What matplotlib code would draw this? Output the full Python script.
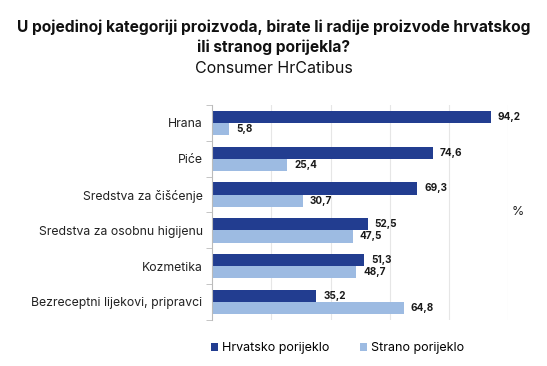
import numpy as np
import matplotlib.pyplot as plt

categories = ["Hrana", "Piće", "Sredstva za čišćenje", "Sredstva za osobnu higijenu",
              "Kozmetika", "Bezreceptni lijekovi, pripravci"]
hrvatsko = [94.2, 74.6, 69.3, 52.5, 51.3, 35.2]
strano = [5.8, 25.4, 30.7, 47.5, 48.7, 64.8]
series_names = ["Hrvatsko porijeklo", "Strano porijeklo"]

dark = "#223d90"
light = "#9dbbe2"

plt.rcParams['font.family'] = ['Inter', 'DejaVu Sans']

fig = plt.figure(figsize=(5.47, 3.66), dpi=100)
ax = fig.add_axes([0.388, 0.126, 0.541, 0.587])

y = np.arange(len(categories))
h = 0.34
b1 = ax.barh(y - h / 2, hrvatsko, height=h, color=dark, label=series_names[0])
b2 = ax.barh(y + h / 2, strano, height=h, color=light, label=series_names[1])

for bars, vals in ((b1, hrvatsko), (b2, strano)):
    for bar, v in zip(bars, vals):
        ax.text(bar.get_width() + 2.3, bar.get_y() + bar.get_height() / 2,
                f"{v:.1f}".replace(".", ","), va="center", ha="left",
                fontsize=7.2, fontweight="bold", color="#1a1a1a")

ax.set_xlim(0, 100)
ax.set_ylim(len(categories) - 0.5, -0.5)
ax.set_yticks(y)
ax.set_yticklabels(categories, fontsize=8.8, color="#222222")
ax.set_yticks(np.arange(len(categories) + 1) - 0.5, minor=True)
ax.tick_params(axis="y", which="major", length=0, pad=7)
ax.tick_params(axis="y", which="minor", length=4, color="#bbbbbb")
ax.set_xticks([20, 40, 60, 80, 100])
ax.tick_params(axis="x", length=0, labelbottom=False)
ax.grid(axis="x", color="#e6e6e6", linewidth=0.8)
ax.set_axisbelow(True)
for s in ["top", "right", "bottom"]:
    ax.spines[s].set_visible(False)
ax.spines["left"].set_color("#bbbbbb")

fig.text(0.5, 0.925, "U pojedinoj kategoriji proizvoda, birate li radije proizvode hrvatskog",
         ha="center", va="center", fontsize=11.2, fontweight="bold", color="#111111")
fig.text(0.5, 0.87, "ili stranog porijekla?",
         ha="center", va="center", fontsize=11.2, fontweight="bold", color="#111111")
fig.text(0.5, 0.812, "Consumer HrCatibus",
         ha="center", va="center", fontsize=11.5, color="#111111")
fig.text(0.947, 0.42, "%", ha="center", va="center", fontsize=9, color="#222222")

fig.legend(handles=[b1, b2], labels=series_names, loc="center", bbox_to_anchor=(0.617, 0.048),
           ncol=2, frameon=False, fontsize=9, handlelength=0.6, handleheight=0.6,
           handletextpad=0.3, columnspacing=2.45)

fig.savefig("out.png", dpi=100)
